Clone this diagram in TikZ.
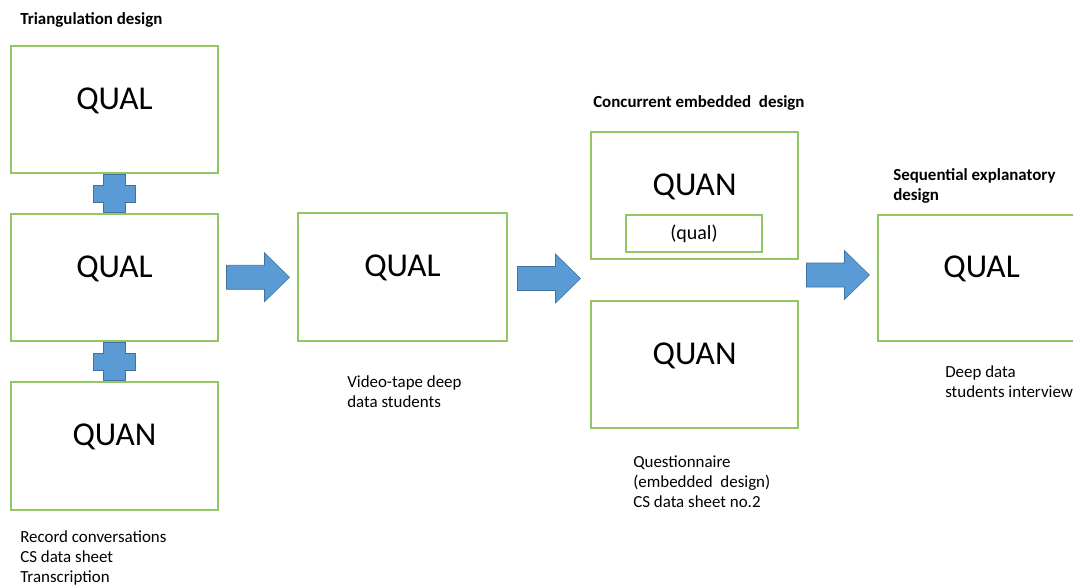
\documentclass[tikz,border=0pt]{standalone}
\usepackage{fontspec}
\setmainfont{Carlito}
\usepackage{tikz}
\usetikzlibrary{positioning, calc}

\definecolor{boxgreen}{RGB}{146,200,100}
\definecolor{arrowblue}{RGB}{91,155,213}
\definecolor{arrowedge}{RGB}{65,113,156}

\tikzset{
  design/.style={draw=boxgreen, line width=1.1pt, fill=white, inner sep=0pt,
    minimum width=155.25pt, minimum height=95.25pt},
  tag/.style={font=\fontsize{25}{30}\selectfont, yshift=6.8pt},
  note/.style={font=\fontsize{12.7}{15}\selectfont, align=left, anchor=west, inner sep=0pt},
  heading/.style={note, font=\fontsize{12.7}{15}\selectfont\bfseries},
  pics/blockarrow/.style={code={
    \draw[fill=arrowblue, draw=arrowedge, line width=0.4pt]
      (-31.5,-12) -- (6.5,-12) -- (6.5,-24.5) -- (31.5,0) -- (6.5,24.5)
      -- (6.5,12) -- (-31.5,12) -- cycle;}},
  pics/plussign/.style={code={
    \draw[fill=arrowblue, draw=arrowedge, line width=0.4pt]
      (-11,-19) -- (11,-19) -- (11,-8.5) -- (21,-8.5) -- (21,8.5) -- (11,8.5)
      -- (11,19) -- (-11,19) -- (-11,8.5) -- (-21,8.5) -- (-21,-8.5)
      -- (-11,-8.5) -- cycle;}}
}

\begin{document}
\begin{tikzpicture}[x=0.75pt, y=-0.75pt]
  \clip (0,0) rectangle (1073,586);

  % triangulation
  \node[heading] (trititle) at (20,20) {Triangulation design};
  \node[design, label={[tag]center:QUAL}] (tri1) at (114.5,109.5) {};
  \node[design, label={[tag]center:QUAL}] (tri2) at (114.5,277.5) {};
  \node[design, label={[tag]center:QUAN}, minimum height=96pt] (tri3) at (114.5,446) {};
  \node[note] (trinote) at (20,557.5) {Record conversations\\CS data sheet\\Transcription};
  \pic at ($(tri1.south)!0.5!(tri2.north)$) {plussign};
  \pic at ($(tri2.south)!0.5!(tri3.north)$) {plussign};

  % video-tape
  \node[design, label={[tag]center:QUAL}, minimum width=156.75pt, minimum height=96pt] (video) at (402.5,277) {};
  \node[note] (videonote) at (347,391.5) {Video-tape deep\\data students};
  \pic at ($(tri2.east)!0.5!(video.west)$) {blockarrow};

  % concurrent embedded
  \node[heading] (embtitle) at (593,102.5) {Concurrent embedded~ design};
  \node[design, label={[tag]center:QUAN}] (embed) at (694.5,195.5) {};
  \node[draw=boxgreen, line width=1.1pt, inner sep=0pt, minimum width=102pt, minimum height=27.75pt,
    font=\fontsize{15}{18}\selectfont] (inner) at (694,233.5) {(qual)};
  \node[design, label={[tag]center:QUAN}] (quest) at (694.5,364.5) {};
  \node[note] (questnote) at (633,481.5) {Questionnaire\\(embedded~ design)\\CS data sheet no.2};
  \coordinate (splitw) at ($(embed.south west)!0.5!(quest.north west)$);
  \coordinate (splite) at ($(embed.south east)!0.5!(quest.north east)$);
  \pic at ($(video.east)!0.5!(splitw)$) {blockarrow};

  % sequential explanatory
  \node[heading] (seqtitle) at (893,185.5) {Sequential explanatory\\design};
  \node[design, label={[tag]center:QUAL}, minimum height=94.5pt] (interview) at (981.5,278) {};
  \node[note] (intnote) at (945,381.5) {Deep data\\students interview};
  \pic at ($(splite)!0.5!(interview.west)+(0,-4)$) {blockarrow};
\end{tikzpicture}
\end{document}
